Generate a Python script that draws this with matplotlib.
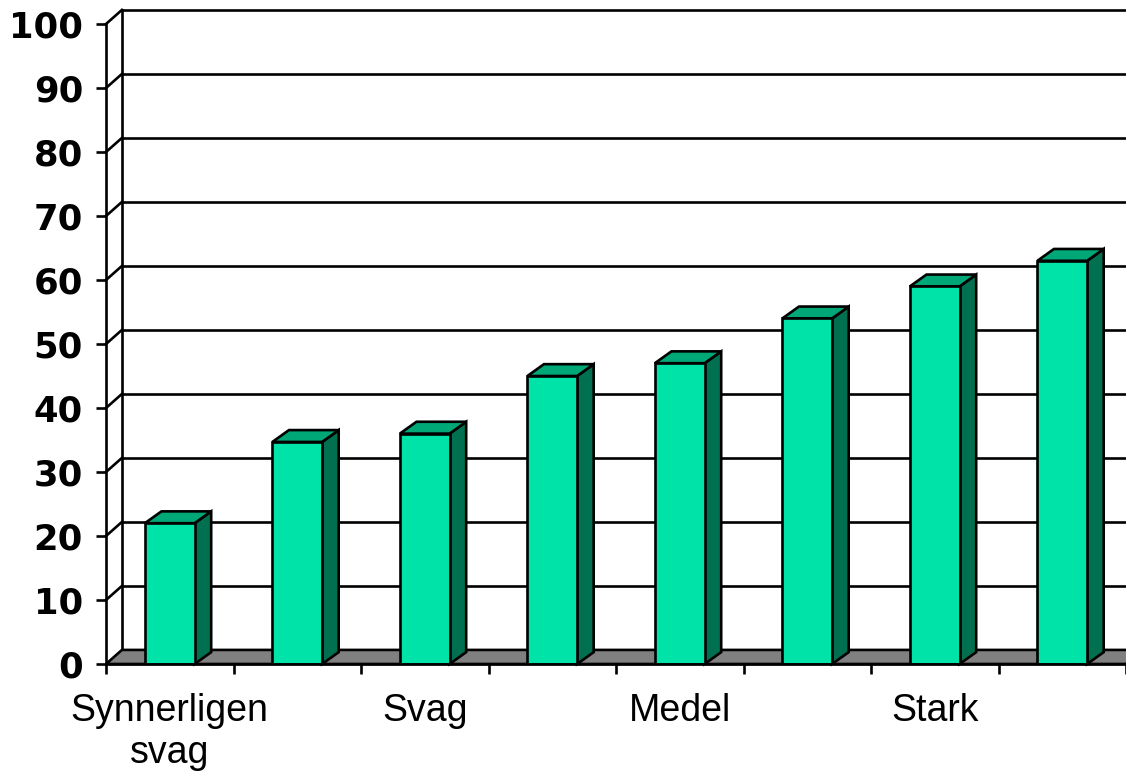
import matplotlib
matplotlib.use('Agg')
import matplotlib.pyplot as plt
from matplotlib.patches import Polygon

# data
categories = ['Synnerligen\nsvag', '', 'Svag', '', 'Medel', '', 'Stark', '']
values = [22, 34.7, 36, 45, 47, 54, 59, 63]
yticks = list(range(0, 101, 10))

front_col = '#00E3A8'
side_col = '#007050'
top_col = '#00A878'
floor_col = '#808080'

# 3d offsets in data units (wall and bar depth)
DX = 0.125
DY = 2.2
BDX = 0.13
BDY = 1.85
W = 0.39
LW = 1.9

fig = plt.figure(figsize=(11.26, 7.76), dpi=100)
ax = fig.add_axes([106 / 1126, 112 / 776, 1020 / 1126, 640 / 776])
n = len(values)
ax.set_xlim(0, n)
ax.set_ylim(0, 100)

# floor
ax.add_patch(Polygon([(0, 0), (n, 0), (n + DX, DY), (DX, DY)], closed=True,
                     facecolor=floor_col, edgecolor='black', lw=LW,
                     clip_on=False, zorder=1))

# back wall gridlines + side wall diagonals
for v in yticks[1:]:
    ax.plot([DX, n + DX + 1], [v + DY, v + DY], color='black', lw=LW,
            clip_on=False, zorder=0.5)
    ax.plot([0, DX], [v, v + DY], color='black', lw=LW, clip_on=False, zorder=0.5)
ax.plot([DX, DX], [DY, 100 + DY], color='black', lw=LW, clip_on=False, zorder=0.5)

# bars: front faces with the library, side and top faces derived from them
xs = [i + 0.5 for i in range(n)]
bars = ax.bar(xs, values, width=W, color=front_col, edgecolor='black',
              linewidth=LW, zorder=3)
for b in bars:
    x0, x1, h = b.get_x(), b.get_x() + b.get_width(), b.get_height()
    ax.add_patch(Polygon([(x1, 0), (x1 + BDX, BDY), (x1 + BDX, h + BDY), (x1, h)],
                         closed=True, facecolor=side_col, edgecolor='black',
                         lw=LW, zorder=2.5, clip_on=False))
    ax.add_patch(Polygon([(x0, h), (x1, h), (x1 + BDX, h + BDY), (x0 + BDX, h + BDY)],
                         closed=True, facecolor=top_col, edgecolor='black',
                         lw=LW, zorder=2.5, clip_on=False))

for s in ['top', 'right']:
    ax.spines[s].set_visible(False)
ax.spines['left'].set_linewidth(LW)
ax.spines['bottom'].set_linewidth(LW)
ax.spines['left'].set_zorder(4)
ax.spines['bottom'].set_zorder(4)

ax.set_yticks(yticks)
ax.set_yticklabels([str(v) for v in yticks], fontsize=25.5, fontweight='bold',
                   family='DejaVu Sans')
ax.tick_params(axis='y', direction='out', length=7.5, width=LW, pad=9)

ax.set_xticks(range(n + 1))
ax.set_xticklabels([''] * (n + 1))
ax.set_xticks(xs, minor=True)
ax.set_xticklabels(categories, minor=True, fontsize=27, family='Liberation Sans',
                   linespacing=1.22)
ax.tick_params(axis='x', which='major', direction='out', length=7.5, width=LW)
ax.tick_params(axis='x', which='minor', length=0, pad=21)

fig.savefig('out.png', dpi=100)
